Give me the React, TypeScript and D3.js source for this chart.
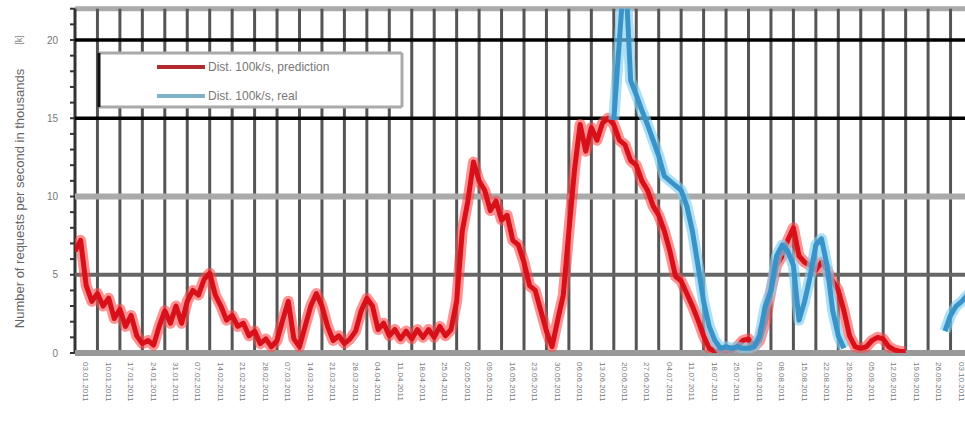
import React from "react";
import * as d3 from "d3";

// ---- data ----
const weekLabels: string[] = [
  "03.01.2011", "10.01.2011", "17.01.2011", "24.01.2011", "31.01.2011",
  "07.02.2011", "14.02.2011", "21.02.2011", "28.02.2011", "07.03.2011",
  "14.03.2011", "21.03.2011", "28.03.2011", "04.04.2011", "11.04.2011",
  "18.04.2011", "25.04.2011", "02.05.2011", "09.05.2011", "16.05.2011",
  "23.05.2011", "30.05.2011", "06.06.2011", "13.06.2011", "20.06.2011",
  "27.06.2011", "04.07.2011", "11.07.2011", "18.07.2011", "25.07.2011",
  "01.08.2011", "08.08.2011", "15.08.2011", "22.08.2011", "29.08.2011",
  "05.09.2011", "12.09.2011", "19.09.2011", "26.09.2011", "03.10.2011",
];

const yTicks: number[] = [0, 5, 10, 15, 20];

const seriesNames: string[] = ["Dist. 100k/s, prediction", "Dist. 100k/s, real"];

// values sampled every quarter week
const predictedStartWeek = 0;
const predicted: number[] = [
  6.5, 7.2, 4.3, 3.3, 3.8, 3.0, 3.5, 2.2, 2.8, 1.7,
  2.4, 1.1, 0.6, 0.8, 0.5, 1.7, 2.7, 1.9, 3.0, 1.9,
  3.3, 4.0, 3.7, 4.7, 5.1, 3.7, 3.0, 2.1, 2.4, 1.7,
  1.9, 1.1, 1.4, 0.6, 0.9, 0.4, 0.8, 2.1, 3.3, 0.9,
  0.4, 1.7, 3.0, 3.8, 3.0, 1.7, 0.8, 1.1, 0.6, 0.9,
  1.4, 2.7, 3.5, 3.0, 1.5, 1.9, 1.1, 1.5, 0.9, 1.4,
  0.9, 1.5, 1.0, 1.5, 1.0, 1.7, 1.1, 1.5, 3.3, 7.8,
  9.7, 12.2, 11.0, 10.4, 9.1, 9.7, 8.5, 8.8, 7.2, 6.9,
  5.8, 4.3, 4.0, 2.7, 1.4, 0.4, 2.1, 3.7, 7.8, 11.7,
  14.6, 12.9, 14.4, 13.6, 14.7, 15.0, 14.6, 13.6, 13.3, 12.3,
  12.0, 11.0, 10.4, 9.4, 8.8, 7.8, 6.5, 4.9, 4.6, 3.8,
  3.0, 2.1, 1.1, 0.3, 0.1, 0.1, 0.2, 0.1, 0.4, 0.8,
  0.9, 0.4, 0.8, 2.0, 4.0, 5.6, 6.2, 7.2, 8.0, 6.2,
  5.8, 5.6, 5.3, 5.8, 5.3, 4.6, 4.0, 2.7, 1.1, 0.4,
  0.3, 0.4, 0.8, 1.0, 0.9, 0.4, 0.2, 0.1, 0.1,
];

const realStartWeek = 24;
const real: (number | null)[] = [
  14.9, 20.0, 25.0, 17.4, 16.5, 15.5, 14.6, 13.6, 12.6, 11.3,
  11.0, 10.7, 10.4, 9.4, 7.8, 5.6, 3.3, 1.7, 0.8, 0.3,
  0.4, 0.3, 0.4, 0.3, 0.3, 0.4, 1.1, 3.0, 4.0, 6.2,
  6.9, 6.5, 5.6, 2.1, 3.3, 4.9, 6.9, 7.3, 5.6, 2.7,
  1.1, 0.3, null, null, null, null, null, null, null, null,
  null, null, null, null, null, null, null, null, null, 1.4,
  2.4, 3.0, 3.3, 3.7, 4.0,
];

// ---- layout ----
const W = 965;
const H = 421;
const left = 75;
const right = 973;
const bottomY = 353;

const FONT = "'Liberation Sans', Arial, sans-serif";

export default function App() {
  const x = d3.scaleLinear().domain([0, weekLabels.length]).range([left, right]);
  const y = d3.scaleLinear().domain([0, 20]).range([bottomY, 40]);
  const topY = y(22);

  const predPts = predicted.map((v, i) => ({ t: predictedStartWeek + i * 0.25, v }));
  const realPts = real.map((v, i) => ({ t: realStartWeek + i * 0.25, v }));

  const line = d3
    .line<{ t: number; v: number | null }>()
    .defined((d) => d.v != null)
    .x((d) => x(d.t))
    .y((d) => y(d.v as number));

  const minor = d3.range(0, 23, 1);

  const hStyle = (v: number) => {
    if (v === 20 || v === 15) return { stroke: "#000", w: 3.5 };
    if (v === 10) return { stroke: "#aaa", w: 6 };
    if (v === 5) return { stroke: "#666", w: 4 };
    return { stroke: "#999", w: 6 };
  };

  return (
    <>
      <style>{`body{margin:0}`}</style>
      <svg width={W} height={H} style={{ display: "block", background: "#fff" }} fontFamily={FONT}>
        <defs>
          <clipPath id="plotClip">
            <rect x={left} y={topY} width={right - left} height={bottomY - topY} />
          </clipPath>
        </defs>

        {/* top border */}
        <line x1={left} x2={W} y1={topY} y2={topY} stroke="#aaa" strokeWidth={5} />

        {/* vertical grid lines */}
        {weekLabels.map((_, i) => (
          <line
            key={"vg" + i}
            x1={x(i)}
            x2={x(i)}
            y1={topY}
            y2={bottomY}
            stroke={i === 0 ? "#333" : "#555"}
            strokeWidth={3}
          />
        ))}

        {/* horizontal grid lines */}
        {yTicks.map((v) => {
          const s = hStyle(v);
          return (
            <line key={"hg" + v} x1={left} x2={W} y1={y(v)} y2={y(v)} stroke={s.stroke} strokeWidth={s.w} />
          );
        })}

        {/* minor ticks on y axis */}
        {minor.map((v) => (
          <line key={"mt" + v} x1={70} x2={75} y1={y(v)} y2={y(v)} stroke="#333" strokeWidth={2} />
        ))}

        {/* series */}
        <g clipPath="url(#plotClip)">
          <path d={line(predPts) || ""} fill="none" stroke="#ff4a4a" strokeOpacity={0.6} strokeWidth={11} strokeLinejoin="round" />
          <path d={line(predPts) || ""} fill="none" stroke="#d8101a" strokeWidth={5} strokeLinejoin="round" />
          <path d={line(realPts) || ""} fill="none" stroke="#7fd0f0" strokeOpacity={0.65} strokeWidth={11} strokeLinejoin="round" />
          <path d={line(realPts) || ""} fill="none" stroke="#3a93c8" strokeWidth={5} strokeLinejoin="round" />
        </g>

        {/* y tick labels */}
        {yTicks.map((v) => (
          <text key={"yl" + v} x={58} y={y(v)} dy="0.35em" textAnchor="end" fontSize={10} fill="#777">
            {v}
          </text>
        ))}

        {/* y axis title */}
        <text
          transform={`translate(24,${(bottomY + 40) / 2 + 2}) rotate(-90)`}
          textAnchor="middle"
          fontSize={13}
          fill="#666"
        >
          Number of requests per second in thousands
        </text>
        <text transform="translate(22,40) rotate(-90)" textAnchor="middle" fontSize={9} fill="#888">
          [k]
        </text>

        {/* x tick labels */}
        {weekLabels.map((lab, i) => (
          <text
            key={"xl" + i}
            transform={`translate(${x(i + 0.5) - 3},362) rotate(90)`}
            textAnchor="start"
            fontSize={8}
            fill="#777"
          >
            {lab}
          </text>
        ))}

        {/* legend */}
        <g>
          <rect x={99} y={53} width={303} height={54} fill="#fff" />
          <line x1={99} x2={402} y1={53} y2={53} stroke="#aaa" strokeWidth={3} />
          <line x1={99} x2={402} y1={107} y2={107} stroke="#aaa" strokeWidth={3} />
          <line x1={402} x2={402} y1={53} y2={107} stroke="#aaa" strokeWidth={3} />
          <line x1={99} x2={99} y1={53} y2={107} stroke="#111" strokeWidth={3} />
          <line x1={157} x2={205} y1={67} y2={67} stroke="#b02a2e" strokeWidth={4} />
          <line x1={157} x2={205} y1={96} y2={96} stroke="#7fb3c4" strokeWidth={4} />
          <text x={208} y={67} dy="0.35em" fontSize={12} fill="#777">
            {seriesNames[0]}
          </text>
          <text x={208} y={96} dy="0.35em" fontSize={12} fill="#777">
            {seriesNames[1]}
          </text>
        </g>
      </svg>
    </>
  );
}
